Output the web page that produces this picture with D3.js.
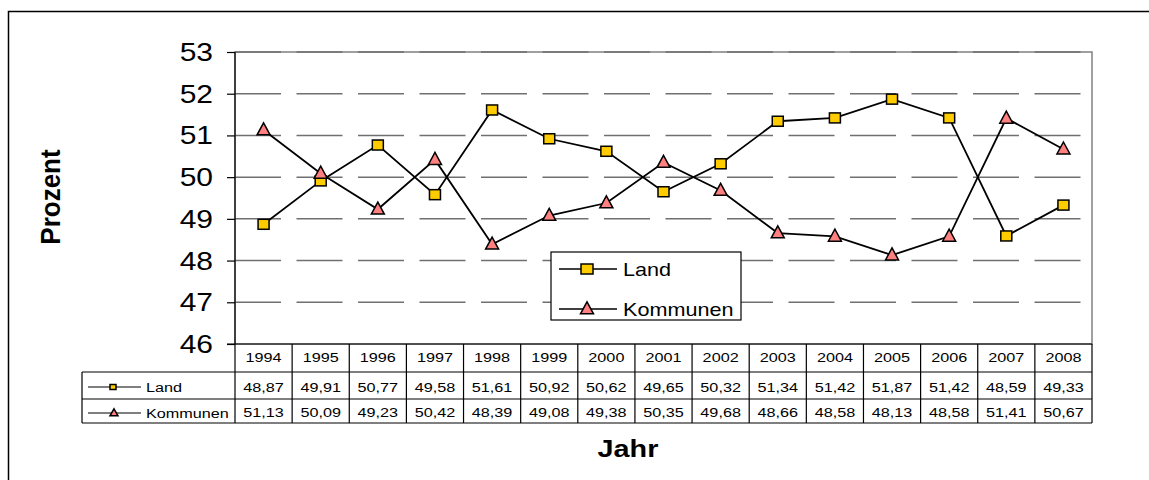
<!DOCTYPE html>
<html><head><meta charset="utf-8">
<script src="https://cdn.jsdelivr.net/npm/d3@7"></script>
<style>
html,body{margin:0;padding:0;background:#fff;}
svg{display:block;font-family:Arial,"Liberation Sans",sans-serif;}
</style></head>
<body><svg id="c" width="1149" height="480"></svg>
<script>
const years = ["1994","1995","1996","1997","1998","1999","2000","2001","2002","2003","2004","2005","2006","2007","2008"];
const land = [48.87,49.91,50.77,49.58,51.61,50.92,50.62,49.65,50.32,51.34,51.42,51.87,51.42,48.59,49.33];
const kommunen = [51.13,50.09,49.23,50.42,48.39,49.08,49.38,50.35,49.68,48.66,48.58,48.13,48.58,51.41,50.67];
const yTicks = [46,47,48,49,50,51,52,53];
const seriesNames = ["Land","Kommunen"];

const SX = 1.2; // horizontal stretch of text as in the reference
const svg = d3.select("#c");
const L = 235, R = 1092, T = 52, B = 344;
const x = d3.scaleBand().domain(years).range([L, R]);
const y = d3.scaleLinear().domain([46, 53]).range([B, T]);
const fmt = d3.formatLocale({decimal: ",", thousands: ".", grouping: [3], currency: ["", "€"]}).format(".2f");

function stext(g, tx, ty, str, size, anchor, weight) {
  return g.append("text")
    .attr("transform", `translate(${tx},${ty}) scale(${SX},1)`)
    .attr("text-anchor", anchor || "start")
    .attr("font-size", size)
    .attr("font-weight", weight || "normal")
    .attr("fill", "#000")
    .text(str);
}

// outer frame
svg.append("rect").attr("x", 8.5).attr("y", 11.5).attr("width", 1300).attr("height", 600)
  .attr("fill", "none").attr("stroke", "#000").attr("stroke-width", 1.5);

// plot area frame (gray)
svg.append("rect").attr("x", L).attr("y", T).attr("width", R - L).attr("height", B - T)
  .attr("fill", "none").attr("stroke", "#808080").attr("stroke-width", 1.5);

// gridlines
const grid = svg.append("g");
yTicks.filter(v => v > 46).forEach(v => {
  grid.append("line").attr("x1", L).attr("x2", R).attr("y1", y(v)).attr("y2", y(v))
    .attr("stroke", "#707070").attr("stroke-width", 1.5)
    .attr("stroke-dasharray", "46,15.5");
});

// y axis
const yAxis = d3.axisLeft(y).tickValues(yTicks).tickSize(8).tickFormat(d => d);
const ya = svg.append("g").attr("transform", `translate(${L},0)`).call(yAxis);
ya.select(".domain").attr("stroke", "#000").attr("stroke-width", 1.2).attr("d", `M0,${T}V${B}`);
ya.selectAll(".tick line").attr("stroke", "#000").attr("stroke-width", 1.2);
ya.selectAll(".tick text").remove();
yTicks.forEach(v => stext(svg, 213, y(v) + 9, String(v), 25, "end"));

// table
const tb = svg.append("g").attr("stroke", "#000").attr("stroke-width", 1.2);
const rowY = [344, 372, 399, 423];
const TL = 82;
tb.append("line").attr("x1", L - 8).attr("x2", R).attr("y1", rowY[0]).attr("y2", rowY[0]);
tb.append("line").attr("x1", TL).attr("x2", R).attr("y1", rowY[1]).attr("y2", rowY[1]);
tb.append("line").attr("x1", TL).attr("x2", R).attr("y1", rowY[2]).attr("y2", rowY[2]);
tb.append("line").attr("x1", TL).attr("x2", R).attr("y1", rowY[3]).attr("y2", rowY[3]);
tb.append("line").attr("x1", TL).attr("x2", TL).attr("y1", rowY[1]).attr("y2", rowY[3]);
years.forEach(yr => {
  tb.append("line").attr("x1", x(yr)).attr("x2", x(yr)).attr("y1", rowY[0]).attr("y2", rowY[3]);
});
tb.append("line").attr("x1", R).attr("x2", R).attr("y1", rowY[0]).attr("y2", rowY[3]);

years.forEach((yr, i) => {
  const cx = x(yr) + x.bandwidth() / 2;
  stext(svg, cx, 362, yr, 13.5, "middle");
  stext(svg, cx, 392, fmt(land[i]), 13.5, "middle");
  stext(svg, cx, 417, fmt(kommunen[i]), 13.5, "middle");
});

// markers
function square(g, cx, cy, w, h) {
  g.append("rect").attr("x", cx - w / 2).attr("y", cy - h / 2).attr("width", w).attr("height", h)
    .attr("fill", "#FFCC00").attr("stroke", "#000").attr("stroke-width", 1.5);
}
function tri(g, cx, cy, w, h) {
  g.append("path").attr("d", `M${cx},${cy - h * 0.6}L${cx + w / 2},${cy + h * 0.4}L${cx - w / 2},${cy + h * 0.4}Z`)
    .attr("fill", "#FF8080").attr("stroke", "#000").attr("stroke-width", 1.5);
}

// table legend keys
const tk = svg.append("g");
tk.append("line").attr("x1", 88).attr("x2", 141).attr("y1", 387).attr("y2", 387).attr("stroke", "#000").attr("stroke-width", 1.2);
square(tk, 113, 387, 6, 5);
stext(svg, 146, 392, seriesNames[0], 13.5, "start");
tk.append("line").attr("x1", 88).attr("x2", 141).attr("y1", 413).attr("y2", 413).attr("stroke", "#000").attr("stroke-width", 1.2);
tri(tk, 114, 413, 8, 7);
stext(svg, 146, 418, seriesNames[1], 13.5, "start");

// lines
const cxOf = i => x(years[i]) + x.bandwidth() / 2;
const line = d3.line().x((d, i) => cxOf(i)).y(d => y(d));
svg.append("path").datum(land).attr("d", line).attr("fill", "none").attr("stroke", "#000").attr("stroke-width", 1.8);
svg.append("path").datum(kommunen).attr("d", line).attr("fill", "none").attr("stroke", "#000").attr("stroke-width", 1.8);

const mk = svg.append("g");
land.forEach((v, i) => square(mk, cxOf(i), y(v), 11, 10));
kommunen.forEach((v, i) => tri(mk, cxOf(i), y(v), 13, 12));

// legend box
const lg = svg.append("g");
lg.append("rect").attr("x", 551).attr("y", 252).attr("width", 190).attr("height", 68)
  .attr("fill", "#fff").attr("stroke", "#000").attr("stroke-width", 1.2);
lg.append("line").attr("x1", 559).attr("x2", 617).attr("y1", 269).attr("y2", 269).attr("stroke", "#000").attr("stroke-width", 1.5);
square(lg, 587, 269, 12, 10);
stext(lg, 623, 276, seriesNames[0], 18, "start");
lg.append("line").attr("x1", 559).attr("x2", 617).attr("y1", 309).attr("y2", 309).attr("stroke", "#000").attr("stroke-width", 1.5);
tri(lg, 587, 309, 13, 12);
stext(lg, 623, 316, seriesNames[1], 18, "start");

// axis titles
stext(svg, 628, 457, "Jahr", 24, "middle", "bold");
svg.append("text").attr("transform", `translate(60,197) rotate(-90) scale(1,1.08)`)
  .attr("text-anchor", "middle").attr("font-size", 26).attr("font-weight", "bold").text("Prozent");
</script></body></html>
